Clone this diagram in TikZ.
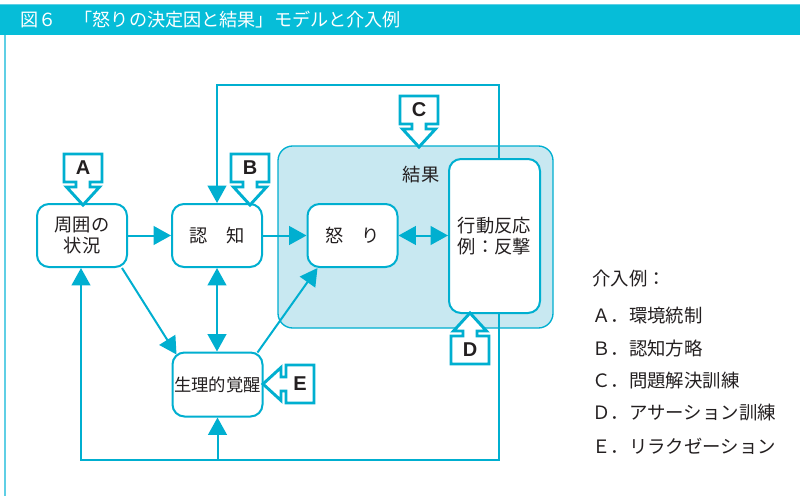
\documentclass[tikz,border=0pt]{standalone}
\usepackage{fontspec}
\setmainfont{Noto Sans CJK JP}
\newfontfamily\latb{Liberation Sans}
\usetikzlibrary{arrows.meta,calc}
\definecolor{cy}{HTML}{00AFD0}
\definecolor{hdr}{HTML}{06BDD8}
\definecolor{regfill}{HTML}{C8E8F1}
\definecolor{lbord}{HTML}{5FCFE5}
\definecolor{txt}{HTML}{231F20}
\tikzset{
  box/.style={draw=cy, line width=1.5pt, fill=white, rounded corners=9pt,
    minimum width=67.5pt, minimum height=47.25pt, align=center, inner sep=0pt,
    text=txt, font=\fontsize{13.7}{15.5}\selectfont},
  conn/.style={draw=cy, line width=1.5pt},
  arr/.style={conn, -{Triangle[length=13pt,width=14pt]}},
  darr/.style={conn, {Triangle[length=13pt,width=14pt]}-{Triangle[length=13pt,width=14pt]}},
  blk/.style={draw=cy, line width=2.2pt, fill=white, line join=miter},
  blklab/.style={inner sep=0pt, text=txt, font=\latb\bfseries\fontsize{15}{15}\selectfont},
  legend/.style={anchor=west, inner sep=0pt, text=txt, font=\fontsize{13.8}{15}\selectfont},
}
\newcommand\blkarrow[4]{%
  \begin{scope}[shift={#2},rotate=#3]
    \draw[blk] (0,0) -- (16.5,-18) -- (7,-18) -- (7,-23) -- (19,-23) -- (19,-51)
      -- (-19,-51) -- (-19,-23) -- (-7,-23) -- (-7,-18) -- (-16.5,-18) -- cycle;
    \node[blklab] (#1) at (0,-37) {#4};
  \end{scope}}
\begin{document}
\begin{tikzpicture}[x=0.75pt,y=-0.75pt]
\useasboundingbox (0,0) rectangle (800,496);
% header
\fill[white] (0,0) rectangle (800,496);
\fill[hdr] (0,4) rectangle (800,35);
\draw[lbord, line width=0.8pt] (0,4.4) -- (800,4.4);
\draw[lbord, line width=1.3pt] (5,35) -- (5,496);
\node[anchor=west, inner sep=0pt, text=white, font=\fontsize{13.6}{15}\selectfont] (title) at (20,20)
  {図６　「怒りの決定因と結果」モデルと介入例};
% result region
\draw[draw=cy, line width=1pt, fill=regfill, rounded corners=11pt] (278,146) rectangle (553,328);
\node[inner sep=0pt, text=txt, font=\fontsize{13.7}{15}\selectfont] (reslab) at (421,175) {結果};
% nodes
\node[box] (surr) at (82,235.5) {周囲の\\状況};
\node[box] (cog) at (217,235.5) {認　知};
\node[box] (anger) at (352.5,235.5) {怒　り};
\node[box, minimum width=68.25pt, minimum height=115.5pt] (beh) at (494.5,236) {行動反応\\例：反撃};
\node[box, minimum height=48pt, font=\fontsize{13}{15}\selectfont] (phys) at (217.5,384.5) {生理的覚醒};
% feedback coordinates
\coordinate (topR) at (499,85);
\coordinate (topL) at (217,85);
\coordinate (botR) at (499,460);
\coordinate (botL) at (81,460);
% connectors
\draw[arr] (surr) -- (cog);
\draw[arr] (cog) -- (anger);
\draw[darr] (anger) -- (beh.west |- anger);
\draw[darr] (cog.south) -- (cog.south |- phys.north);
\draw[arr] ($(surr.south east)+(-6,0)$) -- ($(phys.north west)+(5,3)$);
\draw[arr] ($(phys.north east)+(-6,1)$) -- ($(anger.south west)+(11,0)$);
\draw[arr] (beh.north -| topR) -- (topR) -- (topL) -- (topL |- cog.north);
\draw[arr] (beh.south -| botR) -- (botR) -- (botL) -- (botL |- surr.south);
\draw[arr] (phys.south |- botR) -- (phys.south);
% block arrows
\blkarrow{bA}{(83,205)}{0}{A}
\blkarrow{bB}{(250,205)}{0}{B}
\blkarrow{bC}{(419,147)}{0}{C}
\blkarrow{bD}{(470,313)}{180}{D}
\blkarrow{bE}{(263,384)}{-90}{E}
% legend
\node[legend] (l0) at (592,279) {介入例：};
\node[legend] (l1) at (592,316) {Ａ．環境統制};
\node[legend] (l2) at (592,349) {Ｂ．認知方略};
\node[legend] (l3) at (592,381) {Ｃ．問題解決訓練};
\node[legend] (l4) at (592,413) {Ｄ．アサーション訓練};
\node[legend] (l5) at (592,446) {Ｅ．リラクゼーション};
\end{tikzpicture}
\end{document}
